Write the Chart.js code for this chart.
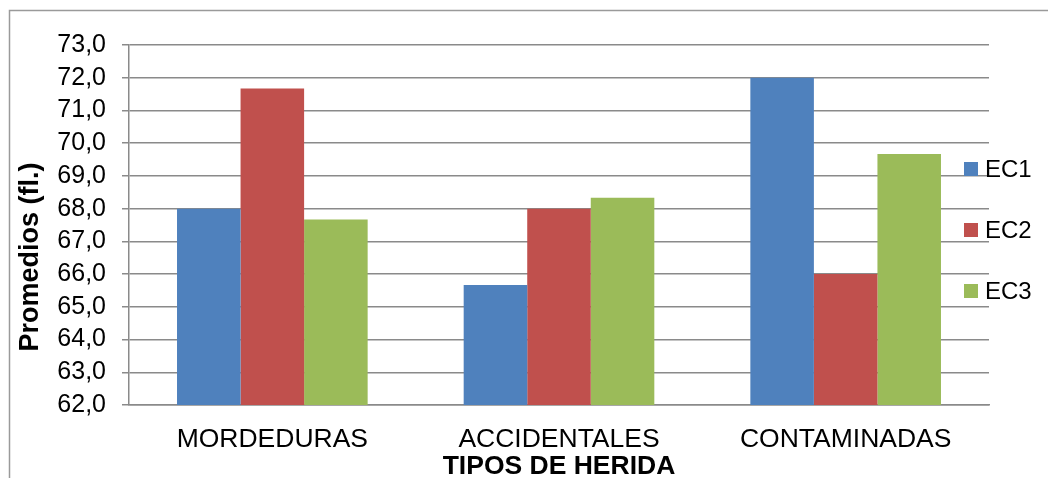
<!DOCTYPE html>
<html>
<head>
<meta charset="utf-8">
<script src="https://cdn.jsdelivr.net/npm/chart.js@4.4.1/dist/chart.umd.min.js"></script>
<style>
  html, body { margin: 0; padding: 0; background: #ffffff; }
  #wrap { width: 1048px; height: 478px; position: relative; }
</style>
</head>
<body>
<div id="wrap"><canvas id="chart" width="1048" height="478"></canvas></div>
<script>
// Wound types and mean values (fl.) for each EC group
const categories = ['MORDEDURAS', 'ACCIDENTALES', 'CONTAMINADAS'];
const seriesNames = ['EC1', 'EC2', 'EC3'];
const ec1 = [68.0, 65.67, 72.0];
const ec2 = [71.67, 68.0, 66.0];
const ec3 = [67.67, 68.33, 69.67];
const yMin = 62;
const yMax = 73;
const yStep = 1;

const colors = ['#4F81BD', '#C0504D', '#9BBB59'];
const gridColor = '#8a8a8a';
const fontFamily = '"Liberation Sans", Arial, sans-serif';

// Outer frame, axis titles and the right-hand legend
const decorations = {
  id: 'decorations',
  beforeDraw(chart) {
    const ctx = chart.ctx;
    ctx.save();
    ctx.fillStyle = '#ffffff';
    ctx.fillRect(0, 0, chart.width, chart.height);
    ctx.strokeStyle = '#9a9a9a';
    ctx.lineWidth = 1.5;
    ctx.beginPath();
    ctx.moveTo(9.5, chart.height + 5);
    ctx.lineTo(9.5, 10.5);
    ctx.lineTo(chart.width + 5, 10.5);
    ctx.stroke();
    ctx.restore();
  },
  afterDraw(chart) {
    const ctx = chart.ctx;
    const area = chart.chartArea;
    ctx.save();
    ctx.fillStyle = '#000000';
    // x axis title
    ctx.font = 'bold 26.5px ' + fontFamily;
    ctx.textAlign = 'center';
    ctx.textBaseline = 'middle';
    ctx.fillText('TIPOS DE HERIDA', (area.left + area.right) / 2, 467);
    // y axis title
    ctx.font = 'bold 27px ' + fontFamily;
    ctx.translate(31, 257);
    ctx.rotate(-Math.PI / 2);
    ctx.fillText('Promedios (fl.)', 0, 0);
    ctx.restore();

    // legend
    ctx.save();
    ctx.font = '24px ' + fontFamily;
    ctx.textAlign = 'left';
    ctx.textBaseline = 'middle';
    chart.data.datasets.forEach((ds, i) => {
      const cy = 169 + i * 61;
      ctx.fillStyle = ds.backgroundColor;
      ctx.fillRect(964, cy - 7, 14, 14);
      ctx.fillStyle = '#000000';
      ctx.fillText(ds.label, 985, cy + 1);
    });
    ctx.restore();
  }
};

new Chart(document.getElementById('chart'), {
  type: 'bar',
  data: {
    labels: categories,
    datasets: [
      { label: seriesNames[0], data: ec1, backgroundColor: colors[0] },
      { label: seriesNames[1], data: ec2, backgroundColor: colors[1] },
      { label: seriesNames[2], data: ec3, backgroundColor: colors[2] }
    ]
  },
  options: {
    responsive: false,
    animation: false,
    devicePixelRatio: 1,
    layout: { padding: { left: 0, top: 45, right: 59, bottom: 0 } },
    datasets: {
      bar: { categoryPercentage: 0.665, barPercentage: 1.0, borderWidth: 0 }
    },
    plugins: {
      legend: { display: false },
      tooltip: { enabled: false },
      title: { display: false }
    },
    scales: {
      x: {
        grid: { display: false, drawTicks: false },
        border: { display: true, color: gridColor, width: 1.5 },
        ticks: {
          color: '#000000',
          font: { family: fontFamily, size: 26.5 },
          padding: 19,
          maxRotation: 0,
          autoSkip: false
        },
        afterFit(scale) { scale.height = 73; }
      },
      y: {
        min: yMin,
        max: yMax,
        grid: {
          color: gridColor,
          lineWidth: 1.5,
          drawTicks: true,
          tickLength: 7,
          tickColor: gridColor
        },
        border: { display: true, color: gridColor, width: 1.5 },
        ticks: {
          stepSize: yStep,
          autoSkip: false,
          color: '#000000',
          font: { family: fontFamily, size: 25 },
          padding: 16,
          callback: (v) => v.toFixed(1).replace('.', ',')
        },
        afterFit(scale) { scale.width = 129; }
      }
    }
  },
  plugins: [decorations]
});
</script>
</body>
</html>
